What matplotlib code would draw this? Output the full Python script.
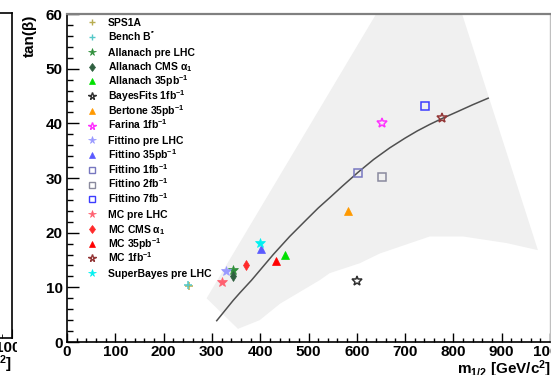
import matplotlib
matplotlib.use("Agg")
import matplotlib.pyplot as plt
from matplotlib.patches import Rectangle
from matplotlib.ticker import MultipleLocator

plt.rcParams['font.family'] = 'Liberation Sans'
plt.rcParams['font.weight'] = 'bold'
plt.rcParams['mathtext.fontset'] = 'custom'
plt.rcParams['mathtext.rm'] = 'Liberation Sans:bold'
plt.rcParams['mathtext.bf'] = 'Liberation Sans:bold'
plt.rcParams['mathtext.it'] = 'Liberation Sans:bold'
plt.rcParams['mathtext.default'] = 'rm'

W, H = 551, 375

# fit results: m_1/2 [GeV/c^2] vs tan(beta)
labels = ['SPS1A', r'Bench B$^{\prime\prime}$', 'Allanach pre LHC', 'Allanach CMS α$_{1}$',
          'Allanach 35pb$^{-1}$', 'BayesFits 1fb$^{-1}$', 'Bertone 35pb$^{-1}$',
          'Farina 1fb$^{-1}$', 'Fittino pre LHC', 'Fittino 35pb$^{-1}$', 'Fittino 1fb$^{-1}$',
          'Fittino 2fb$^{-1}$', 'Fittino 7fb$^{-1}$', 'MC pre LHC', 'MC CMS α$_{1}$',
          'MC 35pb$^{-1}$', 'MC 1fb$^{-1}$', 'SuperBayes pre LHC']
m_half = [252, 250, 343, 343, 452, 601, 581, 652, 330, 401, 602, 652, 742, 321, 371, 432, 777, 399]
tan_beta = [10.2, 10.4, 13.2, 12.1, 15.9, 11.1, 24.0, 40.1, 13.0, 17.0, 31.0, 30.1, 43.2,
            11.0, 14.1, 14.9, 41.0, 18.1]
markers = ['+', '+', '*', 'd', '^', '*', '^', '*', '*', '^', 's', 's', 's', '*', 'd', '^', '*', '*']
colors = ['#b8ad50', '#55c8c8', '#2f8f3a', '#2f6040', '#00e000', '#303030', '#ff9900',
          '#ff33ff', '#9999ff', '#5a5aff', '#7777c0', '#8a8a9e', '#3c3cff', '#ff6070',
          '#ff2a2a', '#ff0000', '#943838', '#00f0f0']
hollow = [False, False, False, False, False, True, False, True, False, False, True, True, True,
          False, False, False, True, False]

# central curve
curve_m = [310, 344, 358, 382, 427, 461, 496, 520, 544, 570, 602, 635, 668, 700, 725,
           751, 777, 810, 840, 872]
curve_tb = [3.9, 7.6, 9.0, 11.3, 16.0, 19.3, 22.4, 24.5, 26.4, 28.5, 31.0, 33.4, 35.5, 37.3,
            38.6, 39.8, 40.9, 42.2, 43.4, 44.6]

# allowed band
band_m = [289, 640, 818, 975, 910, 820, 751, 648, 606, 544, 523, 441, 399, 354]
band_tb = [8.0, 60, 60, 16.8, 18.1, 19.3, 19.3, 16.2, 14.4, 12.6, 11.3, 7.0, 4.0, 2.4]


def fx(px):
    return px / W


def fy(py):
    return 1 - py / H


fig = plt.figure(figsize=(W / 100, H / 100), dpi=100)

# neighbouring pad on the left, mostly outside the canvas
axl = fig.add_axes([fx(12 - 483), fy(338), fx(483), fy(13) - fy(338)], zorder=0)
axl.set_xlim(0, 1000)
axl.set_ylim(0, 60)
axl.xaxis.set_major_locator(MultipleLocator(100))
axl.xaxis.set_minor_locator(MultipleLocator(20))
axl.tick_params(axis='x', which='major', direction='in', length=6.5, labelsize=11, pad=2)
axl.tick_params(axis='x', which='minor', direction='in', length=3.2)
axl.set_yticks([])
for s in axl.spines.values():
    s.set_linewidth(1.2)
fig.text(fx(12), fy(369), r'm$_{1/2}$ [GeV/c$^{2}$]', ha='right', va='baseline',
         fontsize=11, zorder=0.5)

fig.add_artist(Rectangle((fx(17), 0), 1, 1, transform=fig.transFigure,
                         facecolor='white', edgecolor='none', zorder=1))

ax = fig.add_axes([fx(67), fy(342), fx(550) - fx(67), fy(14) - fy(342)], zorder=2)
ax.set_xlim(0, 1000)
ax.set_ylim(0, 60)

ax.fill(band_m, band_tb, color='#f0f0f0', lw=0, zorder=1)
ax.plot(curve_m, curve_tb, color='#505050', lw=1.1, zorder=2)

for m, tb, mk, c, h in zip(m_half, tan_beta, markers, colors, hollow):
    ms = 7 if mk == '*' else 5.5
    ax.plot([m], [tb], marker=mk, ms=ms, color=c, mfc='none' if h else c,
            mew=1.1 if h or mk == '+' else 0.5, ls='none', zorder=3)

# legend
for i, (lab, mk, c, h) in enumerate(zip(labels, markers, colors, hollow)):
    ypx = 22.3 + 14.76 * i
    ya = (342 - ypx) / 328
    ms = 5.5 if mk == '*' else 4.5
    ax.plot([(91.7 - 67) / 483], [ya], transform=ax.transAxes, marker=mk, ms=ms, color=c,
            mfc='none' if h else c, mew=1.0 if h or mk == '+' else 0.5, ls='none',
            clip_on=False, zorder=4)
    ax.text((108 - 67) / 483, (342 - ypx - 3.8) / 328, lab, transform=ax.transAxes,
            fontsize=7.5, va='baseline', ha='left', zorder=4)

ax.xaxis.set_major_locator(MultipleLocator(100))
ax.xaxis.set_minor_locator(MultipleLocator(20))
ax.yaxis.set_major_locator(MultipleLocator(10))
ax.yaxis.set_minor_locator(MultipleLocator(2))
ax.tick_params(axis='x', which='major', direction='in', length=6.5, width=1, labelsize=11, pad=2.5)
ax.tick_params(axis='x', which='minor', direction='in', length=3.2, width=1)
ax.tick_params(axis='y', which='major', direction='in', length=8.6, width=1, labelsize=11, pad=3)
ax.tick_params(axis='y', which='minor', direction='in', length=4.3, width=1)
ax.spines['left'].set_linewidth(1.2)
ax.spines['bottom'].set_linewidth(1.2)
ax.spines['top'].set_color('#808080')
ax.spines['top'].set_linewidth(1.6)
ax.spines['right'].set_color('#c0c0c0')
ax.spines['right'].set_linewidth(1.0)

fig.text(fx(30), fy(15), 'tan(β)', rotation=90, ha='center', va='top', fontsize=11, zorder=3)
fig.text(fx(551), fy(374), r'm$_{1/2}$ [GeV/c$^{2}$]', ha='right', va='baseline',
         fontsize=11, zorder=3)

fig.savefig('out.png', dpi=100)
